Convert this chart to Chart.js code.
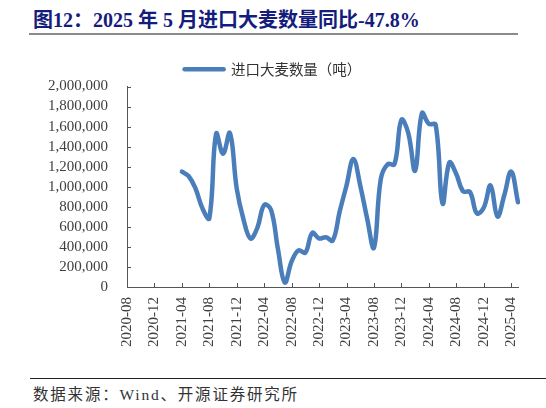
<!DOCTYPE html>
<html lang="zh-CN">
<head>
  <meta charset="UTF-8" />
  <title>进口大麦数量</title>
  <script src="https://cdn.jsdelivr.net/npm/chart.js"></script>
  <style>
    body { margin: 0; width: 546px; height: 408px; background: #fff; position: relative; overflow: hidden; }
    .titulo { position: absolute; left: 33px; top: 4px; font: bold 20px "Liberation Serif", "Noto Sans CJK SC"; color: #141c7c; white-space: nowrap; }
    .linea-titulo { position: absolute; left: 29px; top: 33px; width: 489px; height: 2px; background: #8a8a8a; }
    .linea-fuente { position: absolute; left: 30px; top: 378px; width: 516px; height: 1px; background: #222; }
    .fuente { position: absolute; left: 33px; top: 382px; font: 15.5px "Liberation Serif", "Noto Sans CJK SC"; letter-spacing: 1.8px; color: #333; white-space: nowrap; }
    #contenedor { position: absolute; left: 0; top: 54px; width: 546px; height: 316px; }
  </style>
</head>
<body>
<div class="titulo">图12：2025 年 5 月进口大麦数量同比-47.8%</div>
<div class="linea-titulo"></div>

<div id="contenedor"><canvas id="graficoCebada"></canvas></div>

<div class="linea-fuente"></div>
<div class="fuente">数据来源：Wind、开源证券研究所</div>

<script>
// meses 2020-08 .. 2025-05
const meses = [
  '2020-08','2020-09','2020-10','2020-11','2020-12','2021-01','2021-02','2021-03',
  '2021-04','2021-05','2021-06','2021-07','2021-08','2021-09','2021-10','2021-11','2021-12',
  '2022-01','2022-02','2022-03','2022-04','2022-05','2022-06','2022-07','2022-08','2022-09','2022-10','2022-11','2022-12',
  '2023-01','2023-02','2023-03','2023-04','2023-05','2023-06','2023-07','2023-08','2023-09','2023-10','2023-11','2023-12',
  '2024-01','2024-02','2024-03','2024-04','2024-05','2024-06','2024-07','2024-08','2024-09','2024-10','2024-11','2024-12',
  '2025-01','2025-02','2025-03','2025-04','2025-05'
];

// 进口大麦数量（吨）
const importaciones = [
  null, null, null, null, null, null, null, null,
  1150000, 1105000, 980000, 784000, 686000, 1530000, 1330000, 1536000, 980000,
  670000, 484000, 590000, 818000, 770000, 380000, 45000, 255000, 366000, 343000, 539000, 484000,
  497000, 464000, 752000, 1013000, 1278000, 1013000, 686000, 392000, 1078000, 1225000, 1225000, 1667000,
  1536000, 1160000, 1735000, 1627000, 1618000, 833000, 1242000, 1127000, 955000, 948000, 735000, 790000,
  1013000, 703000, 915000, 1151000, 845000
];

const ticksY = [0, 200000, 400000, 600000, 800000, 1000000, 1200000, 1400000, 1600000, 1800000, 2000000];
const cadaNMeses = 4;

const azul = '#4a7ebb';
const colorEje = '#555';

// marcas de eje hacia dentro
const marcasInternas = {
  id: 'marcasInternas',
  afterDraw(chart) {
    const ctx = chart.ctx;
    const x = chart.scales.x, y = chart.scales.y;
    const area = chart.chartArea;
    ctx.save();
    ctx.strokeStyle = colorEje;
    ctx.lineWidth = 1;
    ctx.beginPath();
    ticksY.forEach(v => {
      const py = Math.round(y.getPixelForValue(v)) + 0.5;
      ctx.moveTo(area.left, py);
      ctx.lineTo(area.left + 4, py);
    });
    meses.forEach((m, i) => {
      if (i % cadaNMeses !== 0) return;
      const px = Math.round(x.getPixelForValue(i)) + 0.5;
      ctx.moveTo(px, area.bottom);
      ctx.lineTo(px, area.bottom - 4);
    });
    ctx.stroke();
    ctx.restore();
  }
};

new Chart(document.getElementById('graficoCebada'), {
  type: 'line',
  data: {
    labels: meses,
    datasets: [{
      label: '进口大麦数量（吨）',
      data: importaciones,
      borderColor: azul,
      backgroundColor: azul,
      borderWidth: 4.5,
      tension: 0.4,
      pointRadius: 0,
      borderCapStyle: 'round',
      borderJoinStyle: 'round',
      spanGaps: false
    }]
  },
  options: {
    responsive: true,
    maintainAspectRatio: false,
    animation: false,
    layout: { padding: { left: 24, right: 24, top: 0, bottom: 0 } },
    plugins: {
      legend: {
        display: true,
        position: 'top',
        labels: {
          usePointStyle: true,
          pointStyle: 'line',
          pointStyleWidth: 39,
          padding: 8,
          color: '#333',
          font: { family: "'Noto Sans CJK SC'", size: 14.5 },
          generateLabels: chart => Chart.defaults.plugins.legend.labels.generateLabels(chart).map(item => {
            item.lineWidth = 4.5;
            item.lineCap = 'round';
            item.pointStyle = 'line';
            return item;
          })
        }
      },
      tooltip: { enabled: false }
    },
    scales: {
      x: {
        type: 'category',
        offset: false,
        grid: { display: false, drawTicks: false },
        border: { display: true, color: colorEje, width: 1 },
        ticks: {
          autoSkip: false,
          maxRotation: 90,
          minRotation: 90,
          padding: 10,
          color: '#404040',
          font: { family: "'Liberation Serif'", size: 15 },
          callback: (v, i) => i % cadaNMeses === 0 ? meses[i] : ''
        },
        afterFit: scale => { scale.height = 83; }
      },
      y: {
        min: 0,
        max: 2000000,
        grid: { display: false, drawTicks: false },
        border: { display: true, color: colorEje, width: 1 },
        afterBuildTicks: scale => { scale.ticks = ticksY.map(v => ({ value: v })); },
        ticks: {
          autoSkip: false,
          padding: 19,
          color: '#404040',
          font: { family: "'Liberation Serif'", size: 15 },
          callback: v => v.toLocaleString('en-US')
        },
        afterFit: scale => { scale.width = 103; }
      }
    }
  },
  plugins: [marcasInternas]
});
</script>
</body>
</html>
